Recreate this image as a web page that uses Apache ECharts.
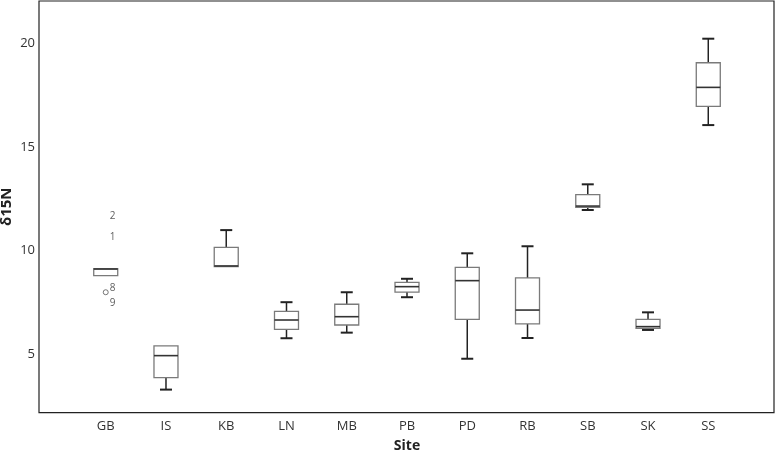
<!DOCTYPE html>
<html>
<head>
<meta charset="utf-8">
<script src="https://cdn.jsdelivr.net/npm/echarts@6/dist/echarts.min.js"></script>
<style>
html,body{margin:0;padding:0;background:#fff;}
#c{width:777px;height:455px;}
</style>
</head>
<body>
<div id="c"></div>
<script>
// ---- data ----
var categories = ['GB','IS','KB','LN','MB','PB','PD','RB','SB','SK','SS'];
var lowWhisker  = [8.78, 3.28, 9.20, 5.76, 6.03, 7.74, 4.77, 5.77, 11.95, 6.16, 16.05];
var q1          = [8.78, 3.86, 9.22, 6.19, 6.40, 7.99, 6.67, 6.45, 12.08, 6.24, 16.95];
var median      = [9.10, 4.92, 9.25, 6.64, 6.80, 8.25, 8.54, 7.12, 12.14, 6.32, 17.87];
var q3          = [9.12, 5.39, 10.15, 7.06, 7.40, 8.46, 9.18, 8.67, 12.69, 6.67, 19.06];
var highWhisker = [9.12, 5.40, 10.98, 7.50, 7.98, 8.63, 9.86, 10.20, 13.19, 7.01, 20.22];

var outlierCategory = ['GB','GB','GB','GB'];
var outlierIds      = ['2','1','8','9'];
var outlierValues   = [11.46, 10.46, 7.98, 7.29];
var outlierMarked   = [false, false, true, false];

var yTickLabels = [5, 10, 15, 20];
var yMin = 2.17, yMax = 22.04;

// ---- build ----
var boxData = categories.map(function(c, i){
  return [i, lowWhisker[i], q1[i], median[i], q3[i], highWhisker[i]];
});
var outData = outlierValues.map(function(v, i){
  var marked = outlierMarked[i];
  return {
    value: [categories.indexOf(outlierCategory[i]), v],
    name: outlierIds[i],
    itemStyle: marked ? {color:'#fff', borderColor:'#555', borderWidth:1} : {color:'rgba(0,0,0,0)', borderColor:'rgba(0,0,0,0)'}
  };
});

var BOX_W = 24, CAP_W = 12;
function renderBox(params, api){
  var i = api.value(0);
  var lo = api.coord([i, api.value(1)]);
  var b1 = api.coord([i, api.value(2)]);
  var md = api.coord([i, api.value(3)]);
  var b3 = api.coord([i, api.value(4)]);
  var hi = api.coord([i, api.value(5)]);
  var x = lo[0];
  var wl = {stroke:'#222', lineWidth:1.5};
  var cap = {stroke:'#222', lineWidth:2};
  var children = [];
  if (hi[1] < b3[1] - 0.5) {
    children.push({type:'line', shape:{x1:x, y1:hi[1], x2:x, y2:b3[1]}, style:wl});
    children.push({type:'line', shape:{x1:x-CAP_W/2, y1:hi[1], x2:x+CAP_W/2, y2:hi[1]}, style:cap});
  }
  if (lo[1] > b1[1] + 0.5) {
    children.push({type:'line', shape:{x1:x, y1:b1[1], x2:x, y2:lo[1]}, style:wl});
    children.push({type:'line', shape:{x1:x-CAP_W/2, y1:lo[1], x2:x+CAP_W/2, y2:lo[1]}, style:cap});
  }
  children.push({type:'rect', shape:{x:x-BOX_W/2, y:b3[1], width:BOX_W, height:b1[1]-b3[1]},
    style:{fill:'#fff', stroke:'#7a7a7a', lineWidth:1.3}});
  children.push({type:'line', shape:{x1:x-BOX_W/2, y1:md[1], x2:x+BOX_W/2, y2:md[1]},
    style:{stroke:'#333', lineWidth:1.6}});
  return {type:'group', children:children};
}

var chart = echarts.init(document.getElementById('c'), null, {renderer:'canvas'});
var FONT = 'Open Sans';
chart.setOption({
  animation:false,
  backgroundColor:'#fff',
  grid:[
    {left:75.6, right:38.6, top:1, bottom:42.4, show:false, containLabel:false, outerBoundsMode:'none'},
    {left:39, right:3, top:1, bottom:42.4, show:true, borderColor:'#222', borderWidth:1.2, backgroundColor:'transparent', containLabel:false, outerBoundsMode:'none'}
  ],
  xAxis:[
    {type:'category', gridIndex:0, data:categories, boundaryGap:true,
     axisLine:{show:false}, axisTick:{show:false}, splitLine:{show:false},
     axisLabel:{color:'#333', fontFamily:FONT, fontSize:13, margin:7},
     name:'Site', nameLocation:'middle', nameGap:26, nameMoveOverlap:false,
     nameTextStyle:{color:'#222', fontFamily:FONT, fontSize:14, fontWeight:'bold'}},
    {type:'value', gridIndex:1, show:false, min:0, max:1}
  ],
  yAxis:[
    {type:'value', gridIndex:0, min:yMin, max:yMax, offset:36.6,
     axisLine:{show:false}, axisTick:{show:false}, splitLine:{show:false},
     axisLabel:{color:'#333', fontFamily:FONT, fontSize:13, margin:4, customValues:yTickLabels},
     name:'δ15N', nameLocation:'middle', nameRotate:90, nameGap:25, nameMoveOverlap:false,
     nameTextStyle:{color:'#222', fontFamily:FONT, fontSize:15, fontWeight:'bold'}},
    {type:'value', gridIndex:1, show:false, min:0, max:1}
  ],
  series:[
    {type:'custom', xAxisIndex:0, yAxisIndex:0, renderItem:renderBox, data:boxData,
     encode:{x:0, y:[1,2,3,4,5]}, z:2},
    {type:'scatter', xAxisIndex:0, yAxisIndex:0, data:outData, symbol:'circle', symbolSize:5, z:3,
     label:{show:true, position:'right', distance:1, offset:[0,-3.6], formatter:'{b}',
       color:'#333', fontFamily:FONT, fontSize:10}}
  ]
});
</script>
</body>
</html>
